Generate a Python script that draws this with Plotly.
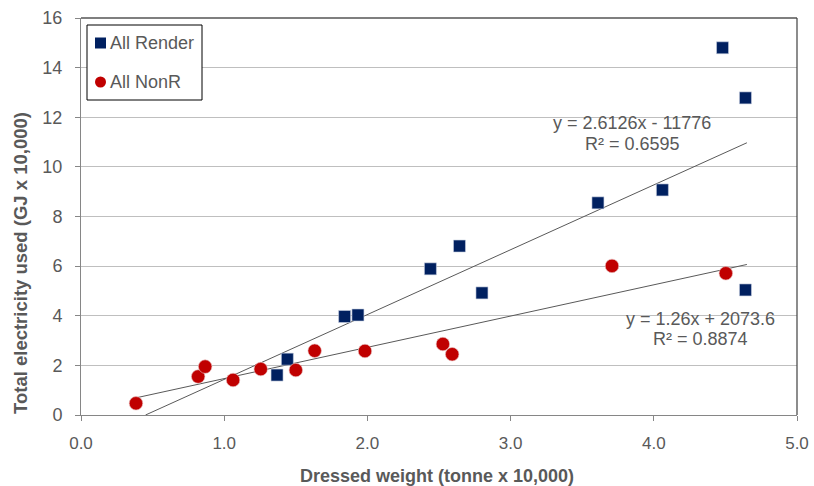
import plotly.graph_objects as go

render_x = [1.369, 1.441, 1.841, 1.934, 2.44, 2.643, 2.80, 3.61, 4.06, 4.48, 4.64, 4.64]
render_y = [1.61, 2.25, 3.97, 4.03, 5.89, 6.81, 4.92, 8.55, 9.07, 14.8, 12.78, 5.04]

nonr_x = [0.384, 0.818, 0.867, 1.062, 1.255, 1.50, 1.632, 1.983, 2.527, 2.592, 3.708, 4.503]
nonr_y = [0.47, 1.55, 1.95, 1.41, 1.85, 1.81, 2.59, 2.58, 2.86, 2.45, 6.01, 5.71]

# trendline coefficients (in x 10,000 units)
render_slope, render_icpt = 2.6126, -1.1776
nonr_slope, nonr_icpt = 1.26, 0.20736
render_trend_x = [0.4507, 4.65]
nonr_trend_x = [0.37, 4.65]

x_ticks = [0, 1, 2, 3, 4, 5]
x_tick_labels = ["0.0", "1.0", "2.0", "3.0", "4.0", "5.0"]
y_ticks = [0, 2, 4, 6, 8, 10, 12, 14, 16]

series_names = ["All Render", "All NonR"]
series_colors = ["#002060", "#C00000"]

gray_txt = "#595959"
FONT = "Liberation Sans, Arial"

W, H = 814, 486
L, R, T, B = 81, 17, 18, 71

def py2paper(py):
    return (H - B - py) / (H - B - T)

def px2paper(px):
    return (px - L) / (W - R - L)

fig = go.Figure()
fig.add_trace(go.Scatter(
    x=render_trend_x, y=[render_slope * v + render_icpt for v in render_trend_x],
    mode="lines", line=dict(color="#595959", width=1), showlegend=False, hoverinfo="skip"))
fig.add_trace(go.Scatter(
    x=nonr_trend_x, y=[nonr_slope * v + nonr_icpt for v in nonr_trend_x],
    mode="lines", line=dict(color="#595959", width=1), showlegend=False, hoverinfo="skip"))
fig.add_trace(go.Scatter(
    x=render_x, y=render_y, mode="markers", name=series_names[0], showlegend=False,
    marker=dict(symbol="square", size=12, color=series_colors[0], line=dict(color="#c8d0e0", width=0.6))))
fig.add_trace(go.Scatter(
    x=nonr_x, y=nonr_y, mode="markers", name=series_names[1], showlegend=False,
    marker=dict(symbol="circle", size=13.5, color=series_colors[1], line=dict(color="#e8c0c0", width=0.6))))

# trendline equations
for txt, px, py in [("y = 2.6126x - 11776", 632, 123), ("R² = 0.6595", 632, 144),
                    ("y = 1.26x + 2073.6", 700, 319), ("R² = 0.8874", 700, 339)]:
    fig.add_annotation(x=px2paper(px), y=py2paper(py), xref="paper", yref="paper",
                       text=txt, showarrow=False, xanchor="center", yanchor="middle",
                       font=dict(family=FONT, size=18, color=gray_txt))

# custom legend (box + symbol + label)
fig.add_shape(type="rect", xref="paper", yref="paper",
              x0=px2paper(87), x1=px2paper(202), y0=py2paper(100), y1=py2paper(25),
              line=dict(color="#000000", width=1), fillcolor="white", layer="above")
legend_rows = [(series_names[0], series_colors[0], "rect", 43),
               (series_names[1], series_colors[1], "circle", 82)]
for nm, col, kind, py in legend_rows:
    fig.add_shape(type=kind, xref="paper", yref="paper",
                  x0=px2paper(95), x1=px2paper(106), y0=py2paper(py + 5.5), y1=py2paper(py - 5.5),
                  line=dict(width=0), fillcolor=col, layer="above")
    fig.add_annotation(x=px2paper(108), y=py2paper(py), xref="paper", yref="paper",
                       text=nm, showarrow=False, xanchor="left", yanchor="middle",
                       font=dict(family=FONT, size=18, color=gray_txt))

# axis titles
fig.add_annotation(x=px2paper(437), y=py2paper(476), xref="paper", yref="paper",
                   text="<b>Dressed weight (tonne x 10,000)</b>", showarrow=False,
                   xanchor="center", yanchor="middle",
                   font=dict(family=FONT, size=18, color=gray_txt))
fig.add_annotation(x=px2paper(20), y=py2paper(263), xref="paper", yref="paper",
                   text="<b>Total electricity used (GJ x 10,000)</b>", showarrow=False,
                   textangle=-90, xanchor="center", yanchor="middle",
                   font=dict(family=FONT, size=18.5, color=gray_txt))

# plot border top & right
fig.add_shape(type="line", xref="paper", yref="paper", x0=0, x1=1, y0=1, y1=1,
              line=dict(color="#000000", width=1.2))
fig.add_shape(type="line", xref="paper", yref="paper", x0=1, x1=1, y0=0, y1=1,
              line=dict(color="#404040", width=1.2))

fig.update_layout(
    width=W, height=H,
    margin=dict(l=L, r=R, t=T, b=B, autoexpand=False),
    plot_bgcolor="white", paper_bgcolor="white",
    font=dict(family=FONT, color=gray_txt),
    showlegend=False,
    xaxis=dict(range=[0, 5], tickvals=x_ticks, ticktext=x_tick_labels, automargin=False,
               showgrid=False, zeroline=False, showline=True, linecolor="#868686", linewidth=1,
               ticks="outside", tickcolor="#868686", ticklen=5, ticklabelstandoff=8,
               tickfont=dict(family=FONT, size=17, color=gray_txt)),
    yaxis=dict(range=[0, 16], tickvals=y_ticks, automargin=False,
               showgrid=True, gridcolor="#BFBFBF", gridwidth=1, zeroline=False,
               showline=True, linecolor="#868686", linewidth=1,
               ticks="outside", tickcolor="#868686", ticklen=5, ticklabelstandoff=9,
               tickfont=dict(family=FONT, size=18, color=gray_txt)),
)

fig.write_html("out.html", config={"displayModeBar": False},
               post_script="document.body.style.margin='0';document.body.style.overflow='hidden';")
